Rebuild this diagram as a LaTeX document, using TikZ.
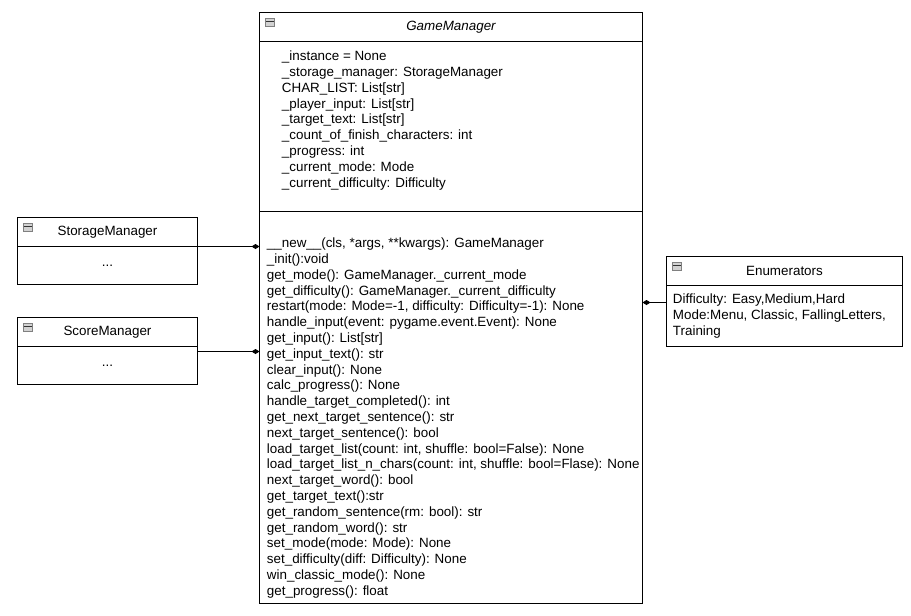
\documentclass[tikz,border=0pt]{standalone}
\usepackage{fontspec}
\setmainfont{Liberation Sans}
\usetikzlibrary{arrows.meta,positioning}

\newcommand{\umlsize}{\fontsize{13.4}{15.8}\selectfont}

\begin{document}
\begin{tikzpicture}[x=1pt,y=-1pt,>={Diamond[length=8pt,width=5pt]},line width=0.9pt,
                    font=\umlsize,
                    class box/.style={draw,rectangle,inner sep=0pt,outer sep=0pt,anchor=north west},
                    member text/.style={anchor=north west,align=left,inner sep=0pt},
                    minus box/.style={draw=gray,fill=gray!35,line width=0.6pt,rectangle,inner sep=0pt,
                      minimum width=9pt,minimum height=8pt,anchor=north west,
                      path picture={\draw[gray!40!black,line width=1pt] (path picture bounding box.west) -- (path picture bounding box.east);}}]
    \useasboundingbox (-0.5,-0.5) rectangle (910.5,615.5);

      % GameManager
      \node[class box,minimum width=383pt,minimum height=29pt,font=\umlsize\itshape] (gmhead) at (259,12) {GameManager};
      \node[class box,minimum width=383pt,minimum height=170pt] (gmattr) at (gmhead.south west) {};
      \node[class box,minimum width=383pt,minimum height=392pt] (gmops) at (gmattr.south west) {};
      \node[minus box] (gmicon) at ([xshift=5pt,yshift=-5pt]gmhead.north west) {};
      \node[member text] (gmattrtext) at (281,50) {\_instance = None\\
        \_storage\_manager: StorageManager\\
        CHAR\_LIST: List[str]\\
        \_player\_input: List[str]\\
        \_target\_text: List[str]\\
        \_count\_of\_finish\_characters: int\\
        \_progress: int\\
        \_current\_mode: Mode\\
        \_current\_difficulty: Difficulty};
      \node[member text] (gmopstext) at (266,237) {\_\_new\_\_(cls, *args, **kwargs): GameManager\\
        \_init():void\\
        get\_mode(): GameManager.\_current\_mode\\
        get\_difficulty(): GameManager.\_current\_difficulty\\
        restart(mode: Mode=-1, difficulty: Difficulty=-1): None\\
        handle\_input(event: pygame.event.Event): None\\
        get\_input(): List[str]\\
        get\_input\_text(): str\\
        clear\_input(): None\\
        calc\_progress(): None\\
        handle\_target\_completed(): int\\
        get\_next\_target\_sentence(): str\\
        next\_target\_sentence(): bool\\
        load\_target\_list(count: int, shuffle: bool=False): None\\
        load\_target\_list\_n\_chars(count: int, shuffle: bool=Flase): None\\
        next\_target\_word(): bool\\
        get\_target\_text():str\\
        get\_random\_sentence(rm: bool): str\\
        get\_random\_word(): str\\
        set\_mode(mode: Mode): None\\
        set\_difficulty(diff: Difficulty): None\\
        win\_classic\_mode(): None\\
        get\_progress(): float};

      % StorageManager
      \node[class box,minimum width=180pt,minimum height=29pt] (storagehead) at (17,217) {StorageManager};
      \node[class box,minimum width=180pt,minimum height=38pt] (storagebody) at (storagehead.south west) {...};
      \node[minus box] (storageicon) at ([xshift=5pt,yshift=-5pt]storagehead.north west) {};

      % ScoreManager
      \node[class box,minimum width=180pt,minimum height=29pt] (scorehead) at (17,317) {ScoreManager};
      \node[class box,minimum width=180pt,minimum height=38pt] (scorebody) at (scorehead.south west) {...};
      \node[minus box] (scoreicon) at ([xshift=5pt,yshift=-5pt]scorehead.north west) {};

      % Enumerators
      \node[class box,minimum width=236pt,minimum height=29pt] (enumhead) at (666,256) {Enumerators};
      \node[class box,minimum width=236pt,minimum height=61pt] (enumbody) at (enumhead.south west) {};
      \node[minus box] (enumicon) at ([xshift=5pt,yshift=-5pt]enumhead.north west) {};
      \node[member text] (enumtext) at (672,293) {Difficulty: Easy,Medium,Hard\\
        Mode:Menu, Classic, FallingLetters,\\
        Training};

      \draw[->] (storagehead.south east) -- (storagehead.south east -| gmops.west);
      \draw[->] ([yshift=-5pt]scorehead.south east) -- ([yshift=-5pt]scorehead.south east -| gmops.west);
      \draw[->] ([yshift=-17pt]enumhead.south west) -- ([yshift=-17pt]enumhead.south west -| gmops.east);
    \end{tikzpicture}
\end{document}
